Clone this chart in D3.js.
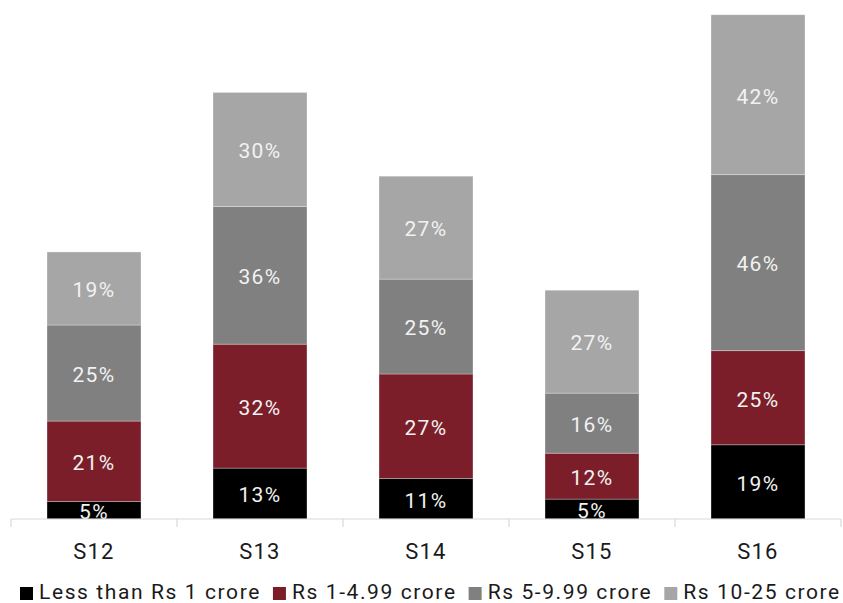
<!DOCTYPE html>
<html>
<head>
<meta charset="utf-8">
<script src="https://cdn.jsdelivr.net/npm/d3@7"></script>
<style>
  html, body { margin: 0; padding: 0; background: #fff; }
  svg { display: block; font-family: Roboto, "Liberation Sans", sans-serif; }
</style>
</head>
<body>
<svg id="chart" width="843" height="603"></svg>
<script>
// ---- data ----
const categories = ["S12", "S13", "S14", "S15", "S16"];
const seriesNames = ["Less than Rs 1 crore", "Rs 1-4.99 crore", "Rs 5-9.99 crore", "Rs 10-25 crore"];
const lessThan1 = [4.6, 13.3, 10.6, 5.2, 19.4];
const rs1to499 = [21.0, 32.4, 27.3, 12.0, 24.6];
const rs5to999 = [25.1, 36.0, 24.8, 15.7, 46.0];
const rs10to25 = [19.1, 29.8, 26.9, 26.9, 41.8];
const seriesValues = [lessThan1, rs1to499, rs5to999, rs10to25];
const colors = ["#000000", "#7B1E2A", "#808080", "#A6A6A6"];

// ---- build table ----
const keys = seriesNames;
const table = categories.map((c, i) => {
  const row = { cat: c };
  keys.forEach((k, j) => { row[k] = seriesValues[j][i]; });
  return row;
});
const stacked = d3.stack().keys(keys)(table);

const svg = d3.select("#chart");
const axisY = 519;
const x = d3.scaleBand().domain(categories).range([11, 841])
  .paddingInner(0.434).paddingOuter(0.217);
const y = d3.scaleLinear().domain([0, 132]).range([axisY, 14]);
const color = d3.scaleOrdinal().domain(keys).range(colors);

// clip for labels
svg.append("defs").append("clipPath").attr("id", "plotclip")
  .append("rect").attr("x", 0).attr("y", 0).attr("width", 843).attr("height", axisY);

// bars
const layers = svg.append("g").selectAll("g").data(stacked).join("g")
  .attr("fill", d => color(d.key));
layers.selectAll("rect").data(d => d).join("rect")
  .attr("x", d => x(d.data.cat))
  .attr("width", x.bandwidth())
  .attr("y", d => y(d[1]))
  .attr("height", d => y(d[0]) - y(d[1]))
  .attr("stroke", "rgba(255,255,255,0.35)")
  .attr("stroke-width", 0.8);

// labels
const lbl = svg.append("g").attr("clip-path", "url(#plotclip)");
stacked.forEach(layer => {
  lbl.selectAll(null).data(layer).join("text")
    .attr("x", d => x(d.data.cat) + x.bandwidth() / 2)
    .attr("y", d => (y(d[0]) + y(d[1])) / 2)
    .attr("dy", "0.42em")
    .attr("text-anchor", "middle")
    .attr("fill", "#F2F2F2")
    .attr("font-size", 21)
    .attr("letter-spacing", 1.4)
    .text(d => Math.round(d[1] - d[0]) + "%");
});

// x axis
const xAxis = svg.append("g");
xAxis.append("line").attr("x1", 11).attr("x2", 841).attr("y1", axisY).attr("y2", axisY)
  .attr("stroke", "#D9D9D9").attr("stroke-width", 1.2);
const bounds = categories.map(c => x(c) - x.step() * x.paddingInner() / 2 ).concat([841]);
xAxis.selectAll("line.tick").data(bounds).join("line").attr("class", "tick")
  .attr("x1", d => d).attr("x2", d => d).attr("y1", axisY).attr("y2", axisY + 8)
  .attr("stroke", "#D9D9D9").attr("stroke-width", 1.2);
xAxis.selectAll("text").data(categories).join("text")
  .attr("x", d => x(d) + x.bandwidth() / 2)
  .attr("y", 559)
  .attr("text-anchor", "middle")
  .attr("fill", "#1A1A1A")
  .attr("font-size", 22)
  .attr("letter-spacing", 1.2)
  .text(d => d);

// legend
const leg = svg.append("g");
let lx = 20;
keys.forEach((k, i) => {
  leg.append("rect").attr("x", lx).attr("y", 587).attr("width", 13).attr("height", 13)
    .attr("fill", colors[i]);
  const t = leg.append("text").attr("x", lx + 19).attr("y", 598.5)
    .attr("fill", "#1A1A1A").attr("font-size", 21).attr("letter-spacing", 1.6)
    .text(k);
  lx = lx + 19 + t.node().getComputedTextLength() + 12;
});
</script>
</body>
</html>
